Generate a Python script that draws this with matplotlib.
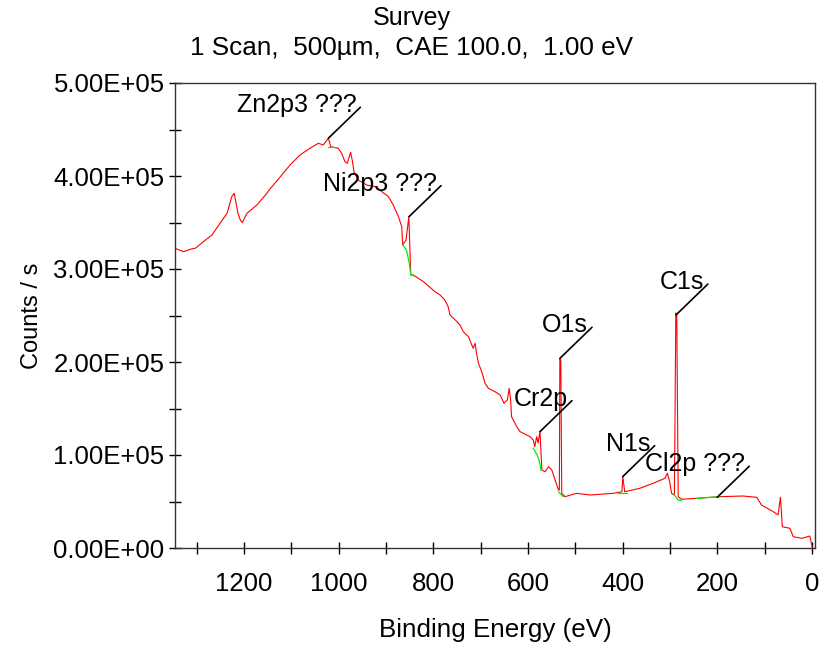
import matplotlib.pyplot as plt
from matplotlib.ticker import MultipleLocator, FuncFormatter

plt.rcParams['font.family'] = ['Liberation Sans', 'DejaVu Sans']

# survey spectrum (binding energy in eV, counts/s)
be = [1346, 1328, 1314, 1303, 1286, 1268, 1251, 1236, 1230, 1226, 1221, 1217, 1213,
      1208, 1204, 1194, 1173, 1152, 1147, 1124, 1103, 1082, 1061, 1043, 1033, 1022,
      1017, 1001, 994, 987, 982, 975, 971, 968, 959, 941, 923, 909, 895, 885, 874,
      867, 865, 858, 852, 848, 843, 821, 797, 786, 776, 769, 765, 754, 744, 737, 726,
      719, 716, 712, 709, 705, 698, 691, 684, 670, 659, 651, 644, 640, 637, 635, 624,
      617, 596, 589, 586, 582, 579, 575, 571, 564, 557, 550, 543, 536, 534, 533, 531,
      529, 522, 498, 469, 420, 402, 400, 396, 364, 336, 311, 306, 301, 297, 291, 288,
      286, 283, 276, 244, 195, 146, 117, 107, 82, 72, 67, 63, 47, 40, 22, 5, 0]
counts = [322.3, 318.6, 321.2, 322.3, 329.4, 336.6, 349.1, 359.9, 370.7, 377.8, 381.4,
          370.7, 359.9, 352.7, 349.8, 359.9, 368.8, 381.4, 385.0, 398.9, 411.8, 422.6,
          429.8, 435.2, 433.3, 440.6, 431.5, 429.8, 424.4, 415.4, 413.7, 425.5, 415.4,
          404.6, 395.7, 390.3, 388.5, 383.1, 377.8, 368.8, 356.3, 345.5, 325.8, 331.2,
          356.3, 293.6, 293.6, 286.4, 275.6, 272.1, 266.7, 259.5, 250.5, 245.2, 239.8,
          232.6, 227.2, 218.3, 214.7, 220.1, 209.4, 198.6, 189.6, 177.1, 171.7, 168.1,
          164.5, 155.6, 159.1, 171.7, 159.1, 141.2, 130.4, 125.1, 119.7, 116.1, 108.9,
          119.7, 112.9, 125.1, 83.9, 82.0, 87.4, 83.9, 73.1, 62.4, 62.4, 204.0, 202.2,
          58.8, 55.2, 58.8, 57.0, 58.8, 60.5, 76.7, 60.5, 64.2, 69.6, 74.9, 80.3, 71.3,
          58.8, 57.0, 252.7, 250.5, 55.2, 52.4, 53.4, 55.2, 55.9, 54.5, 46.2, 39.0, 35.5,
          54.5, 22.9, 21.2, 12.2, 10.4, 12.9, 1.4]
counts = [c * 1000 for c in counts]

# green background segments under the peaks
bg_zn = ([1022, 1008], [431e3, 431e3])
bg_ni = ([865, 857, 851, 848, 841], [325.8e3, 320.4e3, 306.1e3, 293.6e3, 292.5e3])
bg_cr = ([589, 581, 576, 573], [107.2e3, 100.0e3, 92.8e3, 83.9e3])
bg_o = ([536, 526], [60.5e3, 55.2e3])
bg_n = ([410, 392], [58.8e3, 58.8e3])
bg_c = ([291, 283, 276], [57.0e3, 51.6e3, 50.9e3])
bg_cl = ([244, 195], [53.4e3, 55.2e3])
backgrounds = [bg_zn, bg_ni, bg_cr, bg_o, bg_n, bg_c, bg_cl]

peak_labels = ['Zn2p3 ???', 'Ni2p3 ???', 'Cr2p', 'O1s', 'N1s', 'C1s', 'Cl2p ???']
peak_be = [1022, 851.6, 575, 532.7, 400.3, 287.8, 200.6]
peak_counts = [440.6e3, 356.3e3, 125.1e3, 204.0e3, 76.7e3, 250.5e3, 54.5e3]

fig = plt.figure(figsize=(8.23, 6.46), dpi=100)
ax = fig.add_axes([175 / 823, 98 / 646, 640 / 823, 465 / 646])

ax.plot(be, counts, color='#ff0000', lw=0.8, zorder=2)
for bx, by in backgrounds:
    ax.plot(bx, by, color='#00ee00', lw=0.9, zorder=3)

for lab, px, py in zip(peak_labels, peak_be, peak_counts):
    ax.annotate('', xy=(px, py), xytext=(32, 31), textcoords='offset pixels',
                arrowprops=dict(arrowstyle='-', color='black', lw=1.2,
                                shrinkA=0, shrinkB=0))
    ax.annotate(lab, xy=(px, py), xytext=(28, 26), textcoords='offset pixels',
                ha='right', va='baseline', fontsize=18, zorder=4)

ax.set_xlim(1346, -6)
ax.set_ylim(0, 5e5)
ax.xaxis.set_major_locator(MultipleLocator(200))
ax.xaxis.set_minor_locator(MultipleLocator(100))
ax.yaxis.set_major_locator(MultipleLocator(1e5))
ax.yaxis.set_minor_locator(MultipleLocator(5e4))
ax.yaxis.set_major_formatter(FuncFormatter(lambda v, p: f'{v:.2E}'))

ax.tick_params(axis='both', which='both', direction='inout', length=9, width=1,
               top=False, right=False, labelsize=18.5)
ax.tick_params(axis='x', which='major', pad=13)
ax.tick_params(axis='y', which='major', pad=3)
for s in ax.spines.values():
    s.set_color('#333333')
    s.set_linewidth(1)

ax.set_xlabel('Binding Energy (eV)', fontsize=18.7)
ax.set_ylabel('Counts / s', fontsize=17)
ax.xaxis.set_label_coords(0.5, -0.15)
ax.yaxis.set_label_coords(-0.207, 0.5)

fig.text(0.5, 1 - 18 / 646, 'Survey', ha='center', va='center', fontsize=18)
fig.text(0.5, 1 - 48 / 646, '1 Scan,  500µm,  CAE 100.0,  1.00 eV',
         ha='center', va='center', fontsize=18.8)

fig.savefig('out.png', dpi=100)
